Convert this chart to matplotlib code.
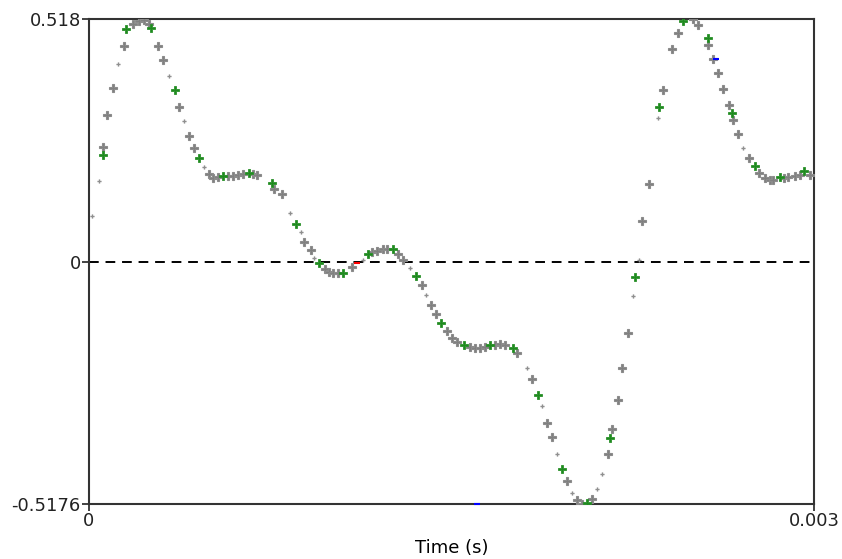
import numpy as np
import matplotlib
matplotlib.use("Agg")
import matplotlib.pyplot as plt

# waveform samples (time in ms, amplitude)
gray_t = [0.0567, 0.0757, 0.1006, 0.1436, 0.1833, 0.2081, 0.2276, 0.2483, 0.2868, 0.3074,
          0.3724, 0.4126, 0.4345, 0.4978, 0.5143, 0.5338, 0.5752, 0.5959, 0.6165, 0.6372,
          0.6786, 0.6952, 0.7655, 0.7974, 0.8896, 0.9174, 0.9765, 0.9931, 1.0109, 1.0303,
          1.0870, 1.1710, 1.1905, 1.2178, 1.2331, 1.2799, 1.2981, 1.3767, 1.4152, 1.4346,
          1.4801, 1.5008, 1.5228, 1.5765, 1.5972, 1.6179, 1.6386, 1.6800, 1.7007, 1.7214,
          1.7698, 1.8318, 1.8964, 1.9171, 1.9767, 2.0181, 2.0400, 2.0801, 2.1464, 2.1654,
          2.1902, 2.2068, 2.2291, 2.2870, 2.3172, 2.3764, 2.4137, 2.4360, 2.5006, 2.5212,
          2.5601, 2.5833, 2.6040, 2.6222, 2.6483, 2.6661, 2.6868, 2.7310, 2.7724, 2.7972,
          2.8179, 2.8316, 2.8759, 2.8936, 2.9214, 2.9421, 2.9834]
gray_y = [0.2451, 0.3122, 0.3699, 0.4602, 0.5078, 0.5136, 0.5151, 0.5078, 0.4595, 0.4303,
          0.3299, 0.2680, 0.2417, 0.1875, 0.1789, 0.1804, 0.1826, 0.1826, 0.1847, 0.1868,
          0.1868, 0.1847, 0.1555, 0.1435, 0.0423, 0.0252, -0.0167, -0.0214, -0.0239, -0.0246,
          -0.0117, 0.0203, 0.0224, 0.0267, 0.0267, 0.0154, 0.0026, -0.0502, -0.0929, -0.1127,
          -0.1484, -0.1640, -0.1719, -0.1826, -0.1836, -0.1841, -0.1826, -0.1783, -0.1768, -0.1783,
          -0.1947, -0.2503, -0.3442, -0.3748, -0.4687, -0.5093, -0.5170, -0.5065, -0.4117, -0.3570,
          -0.2951, -0.2281, -0.1520, 0.0865, 0.1649, 0.3656, 0.4544, 0.4879, 0.5172, 0.5050,
          0.4617, 0.4318, 0.4019, 0.3684, 0.3342, 0.3015, 0.2716, 0.2217, 0.1896, 0.1789,
          0.1751, 0.1734, 0.1783, 0.1804, 0.1826, 0.1847, 0.1841]

# faint in-between samples
small_t = [0.0124, 0.0414, 0.1188, 0.3298, 0.3931, 0.4771, 0.8317, 0.8760, 0.9323, 1.1350,
           1.3283, 1.3932, 1.8136, 1.8757, 1.9353, 1.9999, 2.1034, 2.1215, 2.2498, 2.2771,
           2.3532, 2.7075]
small_y = [0.0972, 0.1719, 0.4224, 0.3968, 0.3000, 0.2018, 0.1042, 0.0636, 0.0068, 0.0026,
           -0.0145, -0.0715, -0.2281, -0.3092, -0.4117, -0.4943, -0.4852, -0.4531, -0.0737, 0.0032,
           0.3058, 0.2430]

# highlighted points (every ~0.1 ms)
green_t = [0.0567, 0.1531, 0.2553, 0.3571, 0.4552, 0.5557, 0.6633, 0.7560, 0.8553, 0.9530,
           1.0523, 1.1557, 1.2567, 1.3518, 1.4578, 1.5530, 1.6593, 1.7557, 1.8592, 1.9560,
           2.0594, 2.1559, 2.2593, 2.3586, 2.4567, 2.5601, 2.6594, 2.7558, 2.8593, 2.9586]
green_y = [0.2274, 0.4958, 0.4993, 0.3656, 0.2210, 0.1832, 0.1890, 0.1683, 0.0807, -0.0038,
           -0.0252, 0.0154, 0.0267, -0.0310, -0.1313, -0.1789, -0.1789, -0.1841, -0.2857, -0.4425,
           -0.5165, -0.3763, -0.0331, 0.3299, 0.5136, 0.4779, 0.3165, 0.2039, 0.1804, 0.1933]

red_t = [1.1102]
red_y = [-0.0026]
blue_t = [1.6068, 2.5945]
blue_y = [-0.5176, 0.4324]

y_min, y_max = -0.5176, 0.518
t_max = 0.003

fig = plt.figure(figsize=(8.42, 5.59), dpi=100)
ax = fig.add_axes([0.1057, 0.0984, 0.8610, 0.8676])

ax.axhline(0, color="black", lw=1.4, ls=(0, (5, 3.5)), zorder=1)

ms = 1e-3
ax.plot(np.array(small_t) * ms, small_y, ls="none", marker="P", ms=3,
        color="#8f8f8f", mew=0, zorder=2)
ax.plot(np.array(gray_t) * ms, gray_y, ls="none", marker="P", ms=5.5,
        color="#808080", mec="#8c8c8c", mew=0.8, zorder=3)
ax.plot(np.array(green_t) * ms, green_y, ls="none", marker="P", ms=6,
        color="#1f8a1f", mec="#2a912a", mew=0.6, zorder=4)
ax.plot(np.array(red_t) * ms, red_y, ls="none", marker="_", ms=4, mew=1.5,
        color="red", zorder=5)
ax.plot(np.array(blue_t) * ms, blue_y, ls="none", marker="_", ms=5, mew=1.5,
        color="blue", zorder=5, clip_on=False)

ax.set_xlim(0, t_max)
ax.set_ylim(y_min, y_max)
ax.set_xticks([0, t_max])
ax.set_xticklabels(["0", "0.003"])
ax.set_yticks([y_min, 0, y_max])
ax.set_yticklabels(["-0.5176", "0", "0.518"])
ax.tick_params(direction="out", length=5, width=1.2, pad=1, labelsize=13,
               colors="#222222")
for s in ax.spines.values():
    s.set_linewidth(1.5)
    s.set_color("#333333")

ax.set_xlabel("Time (s)", fontsize=13, labelpad=6)

fig.savefig("out.png", dpi=100)
